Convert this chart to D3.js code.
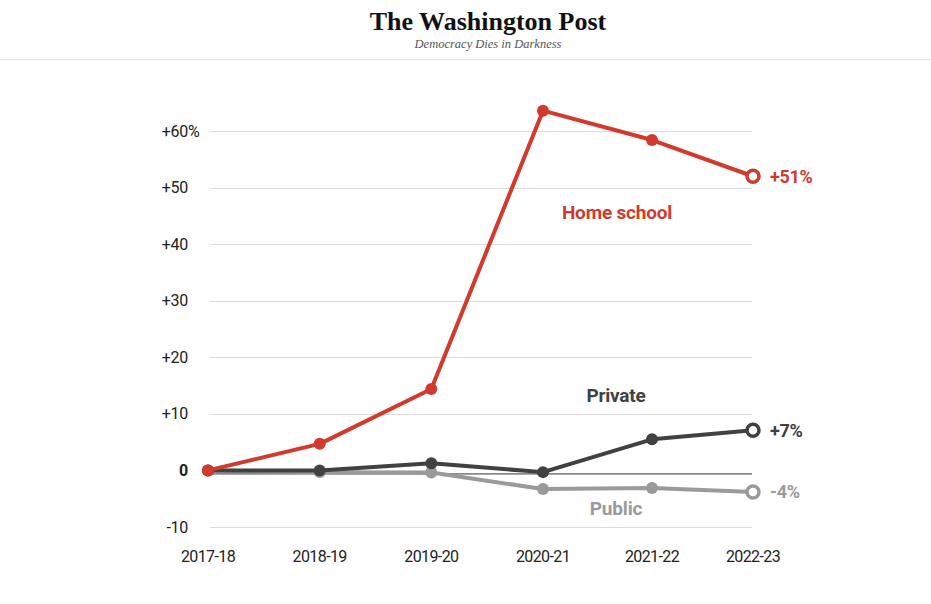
<!DOCTYPE html>
<html><head><meta charset="utf-8">
<script src="https://cdn.jsdelivr.net/npm/d3@7"></script>
<style>
body{margin:0;background:#fff;}
svg{display:block;}
</style></head>
<body>
<svg id="chart" width="931" height="604"></svg>
<script>
const years = ["2017-18","2018-19","2019-20","2020-21","2021-22","2022-23"];
const homeSchool = [0, 4.7, 14.4, 63.6, 58.4, 52];
const privateSchool = [0, 0, 1.25, -0.3, 5.5, 7.1];
const publicSchool = [0, -0.3, -0.35, -3.3, -3.1, -3.8];
const yTicks = [-10, 0, 10, 20, 30, 40, 50, 60];
const seriesNames = ["Public", "Private", "Home school"];
const endLabels = ["-4%", "+7%", "+51%"];

const svg = d3.select("#chart");
const font = "'Roboto', 'Liberation Sans', sans-serif";

// Header
svg.append("text").attr("x", 488).attr("y", 30).attr("text-anchor","middle")
  .attr("font-family","'Liberation Serif','DejaVu Serif',serif").attr("font-weight","bold")
  .attr("font-size",26).attr("fill","#111").text("The Washington Post");
svg.append("text").attr("x", 488).attr("y", 48).attr("text-anchor","middle")
  .attr("font-family","'Liberation Serif','DejaVu Serif',serif").attr("font-style","italic")
  .attr("font-size",12.5).attr("fill","#555").text("Democracy Dies in Darkness");
svg.append("line").attr("x1",0).attr("x2",931).attr("y1",59.5).attr("y2",59.5)
  .attr("stroke","#e6e6e6");

// piecewise (polylinear) index scale, matching the reference's uneven spacing
const xi = d3.scaleLinear().domain([0, 3, 4, 5]).range([208, 543, 652, 753]);
const x = d => xi(years.indexOf(d));
const y = d3.scaleLinear().domain([-10, 60]).range([527, 131]);

// Gridlines
svg.append("g").selectAll("line").data(yTicks.filter(d => d !== 0)).join("line")
  .attr("x1", 210).attr("x2", 752)
  .attr("y1", d => Math.round(y(d)) + 0.5).attr("y2", d => Math.round(y(d)) + 0.5)
  .attr("stroke", "#dcdcdc").attr("stroke-width", 1);

// Zero line
svg.append("line").attr("x1",210).attr("x2",752)
  .attr("y1", y(0)+3.5).attr("y2", y(0)+3.5).attr("stroke","#333").attr("stroke-width",1);

// Y labels
const yl = svg.append("g");
yTicks.forEach(d => {
  yl.append("text").attr("x", 188).attr("y", y(d) + 5.5)
    .attr("text-anchor","end").attr("font-family", font).attr("font-size", 16)
    .attr("fill","#222").attr("letter-spacing", -0.3)
    .attr("font-weight", d === 0 ? "bold" : "normal")
    .text(d === 0 ? "0" : (d > 0 ? "+" + d : String(d)));
  if (d === 60) {
    yl.append("text").attr("x", 188).attr("y", y(d) + 5.5)
      .attr("font-family", font).attr("font-size", 16).attr("fill","#222").text("%");
  }
});

// X labels
svg.append("g").selectAll("text").data(years).join("text")
  .attr("x", d => x(d)).attr("y", 562).attr("text-anchor","middle")
  .attr("font-family", font).attr("font-size", 16).attr("fill","#222")
  .attr("letter-spacing", -0.6)
  .text(d => d);

const series = [
  {name: seriesNames[0], values: publicSchool, color: "#9a9a9a", label: endLabels[0], lx: 616, ly: 515},
  {name: seriesNames[1], values: privateSchool, color: "#414141", label: endLabels[1], lx: 616, ly: 402},
  {name: seriesNames[2], values: homeSchool, color: "#d13a2c", label: endLabels[2], lx: 617, ly: 219}
];

const line = d3.line().x((d, i) => x(years[i])).y(d => y(d));

series.forEach(s => {
  const g = svg.append("g");
  g.append("path").datum(s.values).attr("d", line).attr("fill","none")
    .attr("stroke", s.color).attr("stroke-width", 4).attr("stroke-linejoin","round");
  g.selectAll("circle").data(s.values).join("circle")
    .attr("cx", (d, i) => x(years[i])).attr("cy", d => y(d))
    .attr("r", 6)
    .attr("fill", (d, i) => i === s.values.length - 1 ? "#fff" : s.color)
    .attr("stroke", s.color)
    .attr("stroke-width", (d, i) => i === s.values.length - 1 ? 3.5 : 0);
  const last = s.values[s.values.length - 1];
  g.append("text").attr("x", 770).attr("y", y(last) + 6.5)
    .attr("font-family", font).attr("font-weight","bold").attr("font-size", 18)
    .attr("fill", s.color).attr("letter-spacing", -0.3).text(s.label);
  g.append("text").attr("x", s.lx).attr("y", s.ly).attr("text-anchor","middle")
    .attr("font-family", font).attr("font-weight","bold").attr("font-size", 19)
    .attr("fill", s.color).attr("letter-spacing", -0.2).text(s.name);
});
</script>
</body></html>
